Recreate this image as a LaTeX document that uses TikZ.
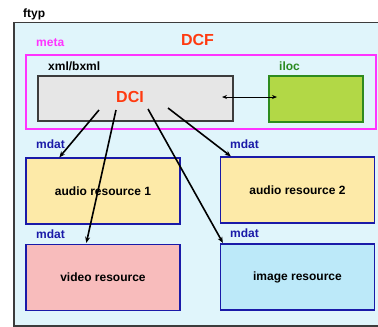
\documentclass[tikz,border=0pt]{standalone}
\usepackage{fontspec}
\setmainfont{Liberation Sans}
\usetikzlibrary{arrows.meta,calc}
\definecolor{dcfbg}{HTML}{E0F5FB}
\definecolor{frame}{HTML}{3C3C3C}
\definecolor{metac}{HTML}{FF33FF}
\definecolor{dcired}{HTML}{FF3A10}
\definecolor{dcifill}{HTML}{E6E6E6}
\definecolor{ilocfill}{HTML}{B2D846}
\definecolor{ilocedge}{HTML}{2E8B1E}
\definecolor{ilocc}{HTML}{2A8A20}
\definecolor{mdatc}{HTML}{1A1AA8}
\definecolor{audiofill}{HTML}{FDEAA8}
\definecolor{videofill}{HTML}{F8BCBC}
\definecolor{imagefill}{HTML}{BCE9F9}
\tikzset{
  lbl/.style={font=\fontsize{12}{14}\selectfont\bfseries, inner sep=0pt, anchor=base west},
  title/.style={inner sep=0pt, text=dcired, font=\fontsize{16}{18}\selectfont\bfseries},
  resbox/.style={draw=mdatc, line width=1.3pt, minimum width=154pt, minimum height=66pt,
    inner sep=0pt, font=\fontsize{12}{14}\selectfont\bfseries},
  arr/.style={line width=1.6pt, -{Stealth[length=6pt,width=5pt]}},
}
\begin{document}
\begin{tikzpicture}[x=1pt,y=-1pt]
\useasboundingbox (0,0) rectangle (378,327);
\clip (0,0) rectangle (378,327);

% file container
\node[lbl] (ftyp) at (23,17.5) {ftyp};
\draw[frame, fill=dcfbg, line width=1.4pt] (14,22.5) rectangle (390,326);
\node[title] (dcf) at (197.5,40) {DCF};

% meta box
\node[lbl, text=metac] (meta) at (36,46) {meta};
\draw[metac, line width=1.2pt] (26,55) rectangle (376,129);

% xml/bxml with DCI
\node[lbl] (xml) at (48,70.5) {xml/bxml};
\node[draw=frame, fill=dcifill, line width=1.3pt, minimum width=195pt, minimum height=45pt,
  inner sep=0pt] (dci) at (135.5,98.5) {};
\node[title] (dcit) at (130,97) {DCI};

% iloc
\node[lbl, text=ilocc] (iloclbl) at (279,70.5) {iloc};
\node[draw=ilocedge, fill=ilocfill, line width=1.3pt, minimum width=94pt, minimum height=46pt,
  inner sep=0pt] (iloc) at (316,99) {};

% mdat resources
\node[lbl, text=mdatc] (m1) at (36,148) {mdat};
\node[lbl, text=mdatc] (m2) at (230,148) {mdat};
\node[lbl, text=mdatc] (m3) at (36,238) {mdat};
\node[lbl, text=mdatc] (m4) at (230,237.5) {mdat};
\node[resbox, fill=audiofill] (a1) at (103,191) {audio resource 1};
\node[resbox, fill=audiofill] (a2) at (297.5,190) {audio resource 2};
\node[resbox, fill=videofill] (vid) at (103,277.5) {video resource};
\node[resbox, fill=imagefill] (img) at (297.5,277) {image resource};

% references from DCI
\coordinate (s1) at (99,110);
\coordinate (s2) at (116,110);
\coordinate (s3) at (148,109);
\coordinate (s4) at (168,108);
\draw[arr] (s1) -- ($(a1.north west)+(34,0)$);
\draw[arr] (s2) -- ($(vid.north west)+(61,-1)$);
\draw[arr] (s3) -- ($(img.north west)+(3,-0.5)$);
\draw[arr] (s4) -- ($(a2.north west)+(11,0)$);

% DCI <-> iloc
\coordinate (d1) at (222,97);
\coordinate (d2) at (277,97);
\draw[line width=0.9pt, {Stealth[length=5pt,width=4pt]}-{Stealth[length=5pt,width=4pt]}] (d1) -- (d2);
\end{tikzpicture}
\end{document}
